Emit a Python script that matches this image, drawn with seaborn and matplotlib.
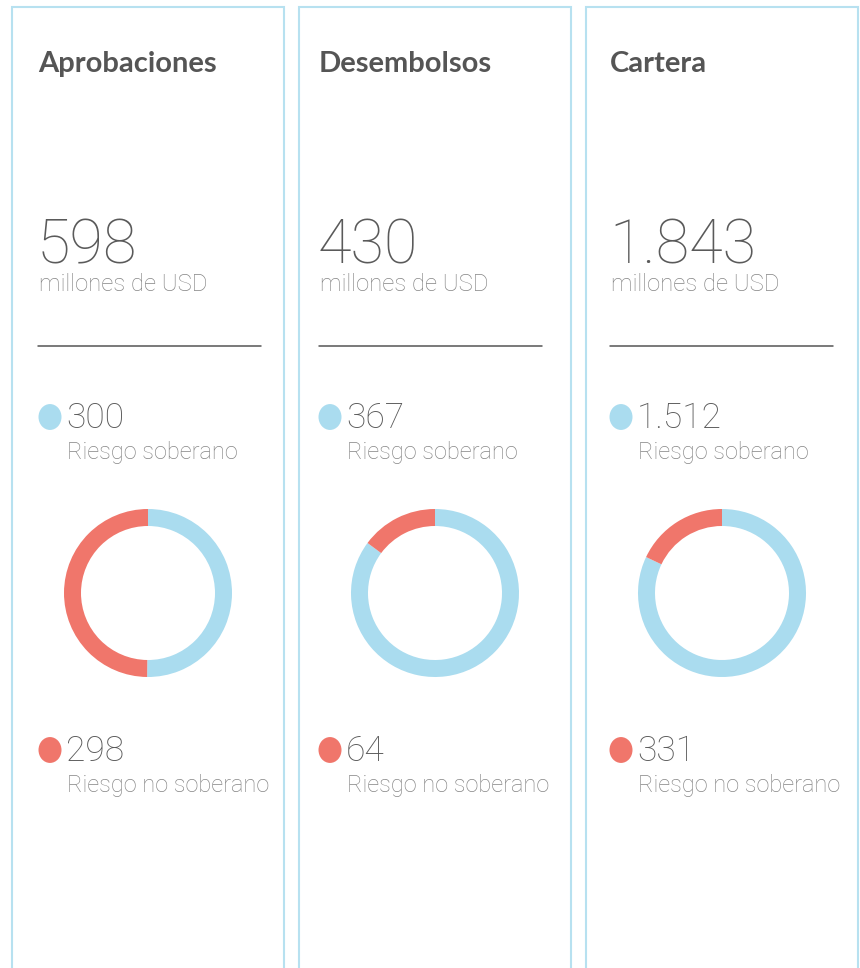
import matplotlib
matplotlib.use("Agg")
import matplotlib.pyplot as plt
import seaborn as sns
from matplotlib.patches import Rectangle, Circle
from matplotlib.lines import Line2D

# datos del gráfico
titles = ["Aprobaciones", "Desembolsos", "Cartera"]
totals = ["598", "430", "1.843"]
unit_label = "millones de USD"
sovereign = [300, 367, 1512]
non_sovereign = [298, 64, 331]
sovereign_labels = ["300", "367", "1.512"]
non_sovereign_labels = ["298", "64", "331"]
series_names = ["Riesgo soberano", "Riesgo no soberano"]

BLUE = "#aadcef"
RED = "#f0766b"
BORDER = "#b7e1f0"
DARK = "#555555"
GREY = "#858585"
NUM = "#5a5a5a"
THIN = ["Roboto", "DejaVu Sans"]

W, H = 860, 968

sns.set_theme(style="white")
plt.rcParams["font.family"] = ["Lato", "DejaVu Sans"]

fig = plt.figure(figsize=(W / 100, H / 100), dpi=100)
fig.patch.set_facecolor("white")


def fx(x):
    return x / W


def fy(y):
    return 1 - y / H


panel_left = [12, 299, 586]
panel_width = 272
text_left = [39, 320, 611]
dot_x = [50, 330, 621]
donut_cx = [148, 435, 722]

for i in range(3):
    x0 = panel_left[i]
    # marco del panel
    fig.patches.append(Rectangle((fx(x0), fy(975)), panel_width / W, (975 - 7) / H,
                                 transform=fig.transFigure, fill=False,
                                 edgecolor=BORDER, linewidth=1.5))
    tx = text_left[i]
    fig.text(fx(tx - 1), fy(72), titles[i], fontsize=21, fontweight="bold",
             color=DARK, va="baseline")
    fig.text(fx(tx - 2), fy(263), totals[i], fontsize=44, fontweight="light",
             color=NUM, va="baseline", family=THIN)
    fig.text(fx(tx), fy(291), unit_label, fontsize=17.2, fontweight="light",
             color=GREY, va="baseline", family=THIN)
    fig.lines.append(Line2D([fx(tx - 1), fx(tx + 222)], [fy(346), fy(346)],
                            transform=fig.transFigure, color="#555555", linewidth=1.1))

    # leyenda soberano
    fig.patches.append(Circle((fx(dot_x[i]), fy(417)), 11.5 / W, transform=fig.transFigure,
                              color=BLUE, linewidth=0))
    fig.text(fx(dot_x[i] + 16), fy(428), sovereign_labels[i], fontsize=25.5,
             fontweight="light", color=NUM, va="baseline", family=THIN)
    fig.text(fx(dot_x[i] + 17), fy(459), series_names[0], fontsize=17,
             fontweight="light", color=GREY, va="baseline", family=THIN)

    # leyenda no soberano
    fig.patches.append(Circle((fx(dot_x[i]), fy(750)), 11.5 / W, transform=fig.transFigure,
                              color=RED, linewidth=0))
    fig.text(fx(dot_x[i] + 16), fy(761), non_sovereign_labels[i], fontsize=25.5,
             fontweight="light", color=NUM, va="baseline", family=THIN)
    fig.text(fx(dot_x[i] + 17), fy(792), series_names[1], fontsize=17,
             fontweight="light", color=GREY, va="baseline", family=THIN)

    # anillo
    r = 84
    ax = fig.add_axes([fx(donut_cx[i] - r), fy(593 + r), 2 * r / W, 2 * r / H])
    ax.pie([sovereign[i], non_sovereign[i]], colors=[BLUE, RED], startangle=90,
           counterclock=False, radius=1, wedgeprops=dict(width=17 / 84, linewidth=0))
    ax.set_xlim(-1, 1)
    ax.set_ylim(-1, 1)
    ax.set_aspect("equal")
    ax.axis("off")

fig.savefig("out.png", dpi=100, facecolor="white")
